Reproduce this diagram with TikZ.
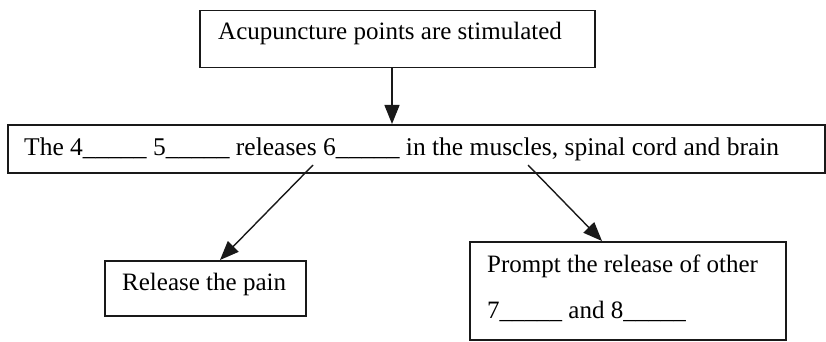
\documentclass[tikz,border=0pt]{standalone}
\usepackage{fontspec}
\setmainfont{Liberation Serif}
\usetikzlibrary{arrows.meta}
\begin{document}
\begin{tikzpicture}[x=1pt,y=-1pt,
  box/.style={draw=black!90,line width=1.5pt,rectangle},
  txt/.style={anchor=base west,inner sep=0pt,font=\fontsize{25}{30}\selectfont,text=black},
  arr/.style={draw=black!90,line width=1.4pt,-{Triangle[length=19pt,width=15pt]}}]
\useasboundingbox (0,0) rectangle (826,342);
\node[box,minimum width=395pt,minimum height=57pt,anchor=north west] (top) at (199,10) {};
\node[box,minimum width=817pt,minimum height=48pt,anchor=north west] (mid) at (7,124) {};
\node[box,minimum width=201pt,minimum height=55pt,anchor=north west] (left) at (104,260) {};
\node[box,minimum width=316pt,minimum height=98pt,anchor=north west] (right) at (469,241) {};
\node[txt] (ttop) at (218,40) {Acupuncture points are stimulated};
\node[txt,font=\fontsize{25.5}{30}\selectfont] (tmid) at (24,155) {The 4\_\_\_\_\_ 5\_\_\_\_\_ releases 6\_\_\_\_\_ in the muscles, spinal cord and brain};
\node[txt] (tleft) at (122,290) {Release the pain};
\node[txt] (tr1) at (487,272) {Prompt the release of other};
\node[txt] (tr2) at (487,318) {7\_\_\_\_\_ and 8\_\_\_\_\_};
\coordinate (s1) at (313,165);
\coordinate (s2) at (528,165);
\draw[arr] (top.south -| 392,0) -- (mid.north -| 392,0);
\draw[arr] (s1) -- (left.north -| 220,0);
\draw[arr] (s2) -- (right.north -| 602,0);
\end{tikzpicture}
\end{document}
